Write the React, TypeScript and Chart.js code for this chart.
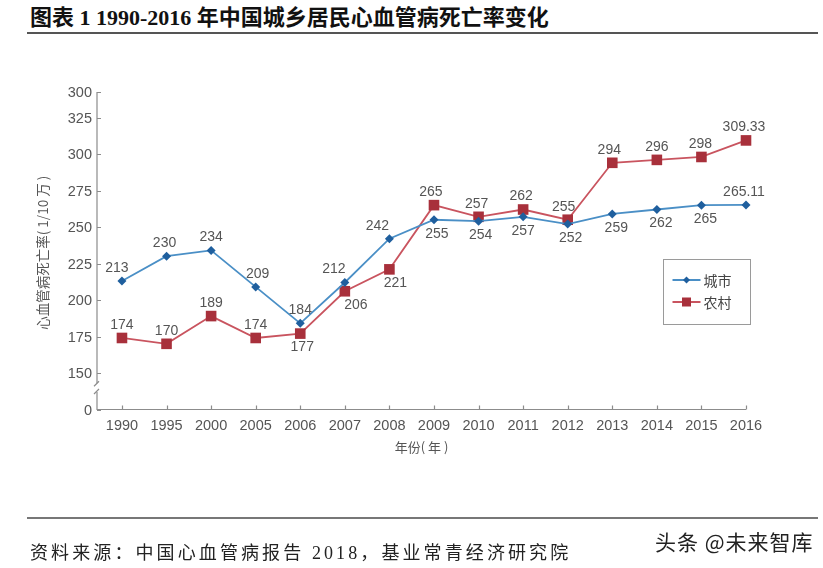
import React, { useEffect, useRef } from "react";
import { Chart, registerables } from "chart.js";

Chart.register(...registerables);

// ---------- data ----------
const years = ["1990", "1995", "2000", "2005", "2006", "2007", "2008", "2009", "2010", "2011", "2012", "2013", "2014", "2015", "2016"];
const urbanRates = [213, 230, 234, 209, 184, 212, 242, 255, 254, 257, 252, 259, 262, 265, 265.11];
const ruralRates = [174, 170, 189, 174, 177, 206, 221, 265, 257, 262, 255, 294, 296, 298, 309.33];
const seriesNames = ["城市", "农村"];
// broken axis: bottom tick is labelled "0", top tick is labelled "300" as in the source figure
const yTickValues = [125, 150, 175, 200, 225, 250, 275, 300, 325, 342.5];
const yTickLabels = ["0", "150", "175", "200", "225", "250", "275", "300", "325", "300"];

// label placement (t = above, b = below) and small horizontal nudges
const urbanLabelPos = ["t", "t", "t", "t", "t", "t", "t", "b", "b", "b", "b", "b", "b", "b", "t"];
const ruralLabelPos = ["t", "t", "t", "t", "b", "b", "b", "t", "t", "t", "t", "t", "t", "t", "t"];
const urbanLabelDx = [-5, -2, 0, 2, 0, -11, -12, 3, 2, 0, 3, 4, 4, 4, -2];
const ruralLabelDx = [0, 0, 0, 0, 2, 11, 6, -3, -2, -2, -4, -3, 0, -1, -2];

const BLUE_LINE = "#4a8fc6";
const BLUE_MARK = "#1f5f9e";
const RED_LINE = "#c9545f";
const RED_MARK = "#a8303b";
const AXIS = "#8c8c8c";
const TEXT = "#555555";
const NUM_FONT = "'Liberation Sans', Arial, sans-serif";
const CJK_FONT = "'Noto Sans CJK SC', sans-serif";

const overlayPlugin = {
  id: "overlay",
  beforeDatasetsDraw(chart: any) {
    const ctx = chart.ctx as CanvasRenderingContext2D;
    const { left, right, top, bottom } = chart.chartArea;
    const xs = chart.scales.x;
    const ys = chart.scales.y;
    ctx.save();
    ctx.strokeStyle = AXIS;
    ctx.lineWidth = 1.2;
    const y150 = ys.getPixelForValue(150);
    const bTop = y150 + (bottom - y150) * 0.28;
    const bBot = y150 + (bottom - y150) * 0.52;
    ctx.beginPath();
    ctx.moveTo(left, top);
    ctx.lineTo(left, bTop);
    ctx.moveTo(left, bBot);
    ctx.lineTo(left, bottom);
    ctx.lineTo(right, bottom);
    ctx.stroke();
    // break marks
    ctx.beginPath();
    ctx.moveTo(left - 3, bTop + 3);
    ctx.lineTo(left + 2, bTop - 2);
    ctx.moveTo(left - 3, bBot + 2);
    ctx.lineTo(left + 2, bBot - 3);
    ctx.stroke();
    // y ticks
    ctx.beginPath();
    yTickValues.forEach((v) => {
      const y = Math.round(ys.getPixelForValue(v)) + 0.5;
      ctx.moveTo(left, y);
      ctx.lineTo(left + 4, y);
    });
    // x ticks
    years.forEach((_, i) => {
      const x = Math.round(xs.getPixelForValue(i)) + 0.5;
      ctx.moveTo(x, bottom);
      ctx.lineTo(x, bottom - 4);
    });
    ctx.stroke();

    ctx.fillStyle = TEXT;
    ctx.font = `14.5px ${NUM_FONT}`;
    ctx.textAlign = "right";
    ctx.textBaseline = "middle";
    yTickValues.forEach((v, i) => {
      ctx.fillText(yTickLabels[i], left - 5, ys.getPixelForValue(v) + 1);
    });
    ctx.textAlign = "center";
    years.forEach((yr, i) => {
      ctx.fillText(yr, xs.getPixelForValue(i), bottom + 16);
    });

    // axis titles
    ctx.font = `13px ${CJK_FONT}`;
    ctx.fillText("年份( 年 )", (left + right) / 2, bottom + 38);
    ctx.save();
    ctx.translate(43, (top + bottom) / 2 + 2);
    ctx.rotate(-Math.PI / 2);
    ctx.font = `13.5px ${CJK_FONT}`;
    ctx.fillText("心血管病死亡率( 1/10 万 )", 0, 0);
    ctx.restore();
    ctx.restore();
  },
  afterDatasetsDraw(chart: any) {
    const ctx = chart.ctx as CanvasRenderingContext2D;
    ctx.save();
    ctx.fillStyle = TEXT;
    ctx.font = `14px ${NUM_FONT}`;
    ctx.textAlign = "center";
    ctx.textBaseline = "middle";
    const posSets = [urbanLabelPos, ruralLabelPos];
    const dxSets = [urbanLabelDx, ruralLabelDx];
    chart.data.datasets.forEach((ds: any, di: number) => {
      const meta = chart.getDatasetMeta(di);
      meta.data.forEach((pt: any, i: number) => {
        const v = ds.data[i].y;
        const above = posSets[di][i] === "t";
        ctx.fillText(String(v), pt.x + dxSets[di][i], pt.y + (above ? -13 : 14));
      });
    });

    // legend box
    const bx = 663.5, by = 259.5, bw = 87, bh = 65;
    ctx.strokeStyle = "#9a9a9a";
    ctx.lineWidth = 1;
    ctx.strokeRect(bx, by, bw, bh);
    const items = [
      { name: seriesNames[0], line: BLUE_LINE, mark: BLUE_MARK, style: "rectRot", r: 3.5 },
      { name: seriesNames[1], line: RED_LINE, mark: RED_MARK, style: "rect", r: 6 },
    ];
    items.forEach((it, k) => {
      const cy = by + 20.5 + k * 22;
      ctx.strokeStyle = it.line;
      ctx.lineWidth = 2;
      ctx.beginPath();
      ctx.moveTo(bx + 9, cy);
      ctx.lineTo(bx + 37, cy);
      ctx.stroke();
      ctx.fillStyle = it.mark;
      ctx.beginPath();
      if (it.style === "rect") {
        ctx.rect(bx + 23 - 4.5, cy - 4.5, 9, 9);
      } else {
        ctx.moveTo(bx + 23, cy - it.r);
        ctx.lineTo(bx + 23 + it.r, cy);
        ctx.lineTo(bx + 23, cy + it.r);
        ctx.lineTo(bx + 23 - it.r, cy);
        ctx.closePath();
      }
      ctx.fill();
      ctx.fillStyle = "#444";
      ctx.font = `14px ${CJK_FONT}`;
      ctx.textAlign = "left";
      ctx.fillText(it.name, bx + 40, cy + 1);
    });
    ctx.restore();
  },
};

export default function App() {
  const canvasRef = useRef<HTMLCanvasElement | null>(null);

  useEffect(() => {
    document.body.style.margin = "0";
    const canvas = canvasRef.current;
    if (!canvas) return;
    const chart = new Chart(canvas, {
      type: "line",
      data: {
        datasets: [
          {
            label: seriesNames[0],
            data: urbanRates.map((v, i) => ({ x: i, y: v })),
            borderColor: BLUE_LINE,
            borderWidth: 1.8,
            pointStyle: "rectRot",
            pointRadius: 4.5,
            pointBackgroundColor: BLUE_MARK,
            pointBorderColor: BLUE_MARK,
            pointBorderWidth: 0,
            tension: 0,
            clip: false as any,
          },
          {
            label: seriesNames[1],
            data: ruralRates.map((v, i) => ({ x: i, y: v })),
            borderColor: RED_LINE,
            borderWidth: 1.8,
            pointStyle: "rect",
            pointRadius: 7.5,
            pointBackgroundColor: RED_MARK,
            pointBorderColor: RED_MARK,
            pointBorderWidth: 0,
            tension: 0,
            clip: false as any,
          },
        ],
      },
      options: {
        responsive: false,
        animation: false,
        devicePixelRatio: 1,
        layout: { padding: { left: 97, right: 77, top: 92, bottom: 158.5 } },
        scales: {
          x: { type: "linear", min: -0.56, max: 14, display: false },
          y: { type: "linear", min: 125, max: 342.5, display: false },
        },
        plugins: {
          legend: { display: false },
          tooltip: { enabled: false },
        },
      },
      plugins: [overlayPlugin],
    });
    return () => chart.destroy();
  }, []);

  return (
    <div style={{ position: "relative", width: 823, height: 568, background: "#fff", overflow: "hidden" }}>
      <div
        style={{
          position: "absolute",
          left: 30,
          top: 4,
          fontFamily: "'Liberation Serif', 'Noto Sans CJK SC', serif",
          fontWeight: "bold",
          fontSize: 22,
          lineHeight: "28px",
          color: "#111",
          whiteSpace: "nowrap",
        }}
      >
        图表 1 1990-2016 年中国城乡居民心血管病死亡率变化
      </div>
      <div style={{ position: "absolute", left: 27, top: 32, width: 791, height: 2, background: "#555" }} />
      <canvas ref={canvasRef} width={823} height={568} style={{ position: "absolute", left: 0, top: 0, display: "block" }} />
      <div style={{ position: "absolute", left: 27, top: 517, width: 791, height: 2, background: "#777" }} />
      <div
        style={{
          position: "absolute",
          left: 30,
          top: 540,
          fontFamily: "'Liberation Serif', 'Noto Sans CJK SC', serif",
          fontSize: 18,
          lineHeight: "26px",
          letterSpacing: 3.1,
          color: "#222",
          whiteSpace: "nowrap",
        }}
      >
        资料来源：中国心血管病报告 2018，基业常青经济研究院
      </div>
      <div
        style={{
          position: "absolute",
          left: 655,
          top: 527,
          fontFamily: "'Noto Sans CJK SC', sans-serif",
          fontSize: 21,
          lineHeight: "28px",
          letterSpacing: 1,
          color: "#222",
          whiteSpace: "nowrap",
        }}
      >
        头条 @未来智库
      </div>
    </div>
  );
}
